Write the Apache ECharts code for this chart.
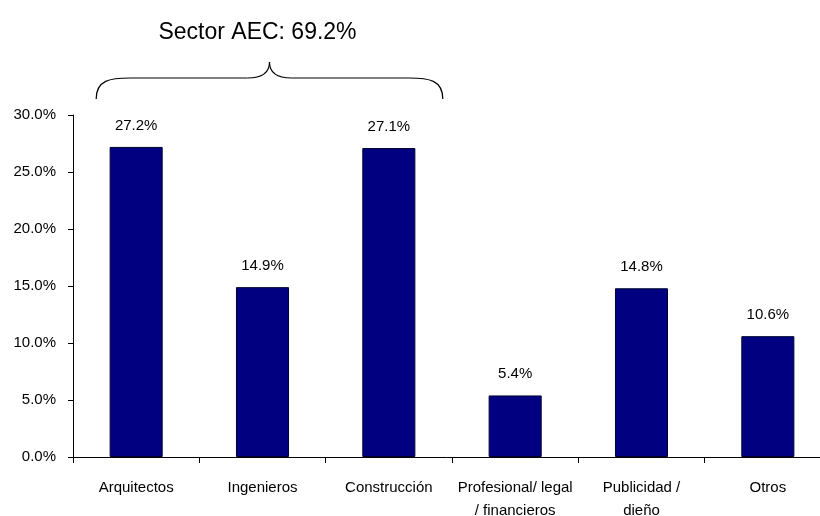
<!DOCTYPE html>
<html>
<head>
<meta charset="utf-8">
<script src="https://cdn.jsdelivr.net/npm/echarts@6/dist/echarts.min.js"></script>
<style>
  html, body { margin: 0; padding: 0; background: #fff; }
  #chart { width: 820px; height: 516px; }
</style>
</head>
<body>
<div id="chart"></div>
<script>
// Share of respondents by sector
const categories = ['Arquitectos', 'Ingenieros', 'Construcción', 'Profesional/ legal\n/ financieros', 'Publicidad /\ndieño', 'Otros'];
const shares = [27.2, 14.9, 27.1, 5.4, 14.8, 10.6];
const yTicks = [0, 5, 10, 15, 20, 25, 30];
const groupLabel = 'Sector AEC: 69.2%';

const FONT = '"Liberation Sans", Arial, sans-serif';
const chart = echarts.init(document.getElementById('chart'));

chart.setOption({
  backgroundColor: '#ffffff',
  animation: false,
  grid: { left: 73, top: 115, width: 758, bottom: 59, containLabel: false, outerBoundsMode: 'none' },
  xAxis: {
    type: 'category',
    data: categories,
    axisLine: { lineStyle: { color: '#000', width: 1 } },
    axisTick: { show: true, length: 6, lineStyle: { color: '#000' } },
    axisLabel: { color: '#000', fontFamily: FONT, fontSize: 15, margin: 19, lineHeight: 23, interval: 0 }
  },
  yAxis: {
    type: 'value',
    min: yTicks[0],
    max: yTicks[yTicks.length - 1],
    interval: yTicks[1] - yTicks[0],
    splitLine: { show: false },
    axisLine: { show: true, lineStyle: { color: '#000', width: 1 } },
    axisTick: { show: true, length: 5, lineStyle: { color: '#000' } },
    axisLabel: { color: '#000', fontFamily: FONT, fontSize: 15, margin: 17, formatter: v => v.toFixed(1) + '%' }
  },
  series: [{
    type: 'bar',
    data: shares,
    barWidth: '42%',
    itemStyle: { color: '#000080', borderColor: '#000030', borderWidth: 1 },
    label: {
      show: true,
      position: 'top',
      distance: 14,
      color: '#000',
      fontFamily: FONT,
      fontSize: 15,
      formatter: p => p.value.toFixed(1) + '%'
    }
  }]
});

// Curly brace grouping the first three sectors, with its caption
const c0 = chart.convertToPixel({ xAxisIndex: 0 }, 0);
const c2 = chart.convertToPixel({ xAxisIndex: 0 }, 2);
const x0 = c0 - 40, x1 = c2 + 54;
const mid = (x0 + x1) / 2;
const yEnd = 99, yMid = 78, yTip = 62;
const braceStyle = { fill: null, stroke: '#000', lineWidth: 1.2 };
const curve = (x1_, y1_, cx1, cy1, cx2, cy2, x2_, y2_) => ({
  type: 'bezierCurve',
  shape: { x1: x1_, y1: y1_, cpx1: cx1, cpy1: cy1, cpx2: cx2, cpy2: cy2, x2: x2_, y2: y2_ },
  style: braceStyle
});
const seg = (xa, ya, xb, yb) => ({
  type: 'line',
  shape: { x1: xa, y1: ya, x2: xb, y2: yb },
  style: braceStyle
});

chart.setOption({
  graphic: [
    curve(x0, yEnd, x0, yMid + 2, x0 + 14, yMid, x0 + 34, yMid),
    seg(x0 + 34, yMid, mid - 22, yMid),
    curve(mid - 22, yMid, mid - 6, yMid, mid, yMid - 6, mid, yTip),
    curve(mid, yTip, mid, yMid - 6, mid + 6, yMid, mid + 22, yMid),
    seg(mid + 22, yMid, x1 - 34, yMid),
    curve(x1 - 34, yMid, x1 - 14, yMid, x1, yMid + 2, x1, yEnd),
    {
      type: 'text',
      x: mid - 12,
      y: 33,
      style: {
        text: groupLabel,
        fill: '#000',
        font: '23px ' + FONT,
        textAlign: 'center',
        textVerticalAlign: 'middle'
      }
    }
  ]
});
</script>
</body>
</html>
